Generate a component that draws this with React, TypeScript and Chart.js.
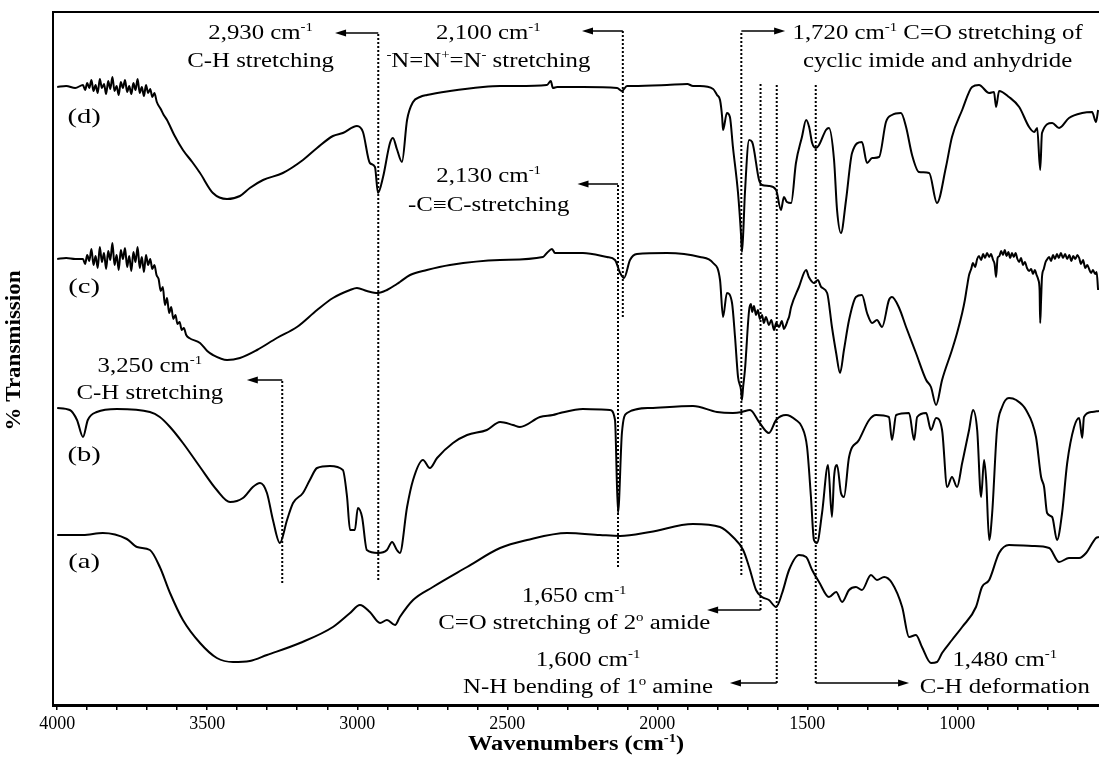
import React, { useEffect, useRef } from "react";
import { Chart, registerables } from "chart.js";

Chart.register(...registerables);

// ---- data: [wavenumber (cm-1), offset transmission (arb. units)] ----
const SPECTRUM_A: number[][] = [
  [4000,170],[3914,170],[3848,172],[3768,166],[3734,158],[3691,155],[3658,138],[3624,112],[3581,85],[3524,62],
  [3468,47],[3414,43],[3358,44],[3301,50],[3191,62],[3081,78],[3024,92],[2991,100],[2958,93],[2924,82],
  [2901,85],[2874,80],[2858,88],[2814,105],[2748,118],[2634,138],[2524,157],[2434,165],[2301,172],[2191,170],
  [2124,169],[2024,173],[1881,181],[1791,178],[1748,168],[1714,155],[1694,138],[1671,115],[1651,108],[1628,105],
  [1604,98],[1584,112],[1561,135],[1528,150],[1504,148],[1484,135],[1461,123],[1428,108],[1404,113],[1384,103],
  [1361,115],[1338,118],[1318,115],[1288,130],[1268,125],[1244,128],[1218,122],[1184,98],[1161,68],[1138,70],
  [1118,58],[1088,42],[1068,43],[1051,52],[1018,65],[984,78],[938,98],[918,118],[894,125],[861,152],
  [828,160],[751,159],[694,157],[661,143],[628,147],[594,147],[571,152],[538,167],[528,168]
];

const SPECTRUM_B: number[][] = [
  [4000,297],[3958,295],[3934,285],[3914,268],[3898,285],[3868,293],[3801,296],[3691,293],[3658,288],[3624,278],
  [3581,262],[3524,238],[3468,215],[3424,203],[3381,207],[3348,218],[3324,222],[3301,212],[3281,185],[3258,162],
  [3234,185],[3214,202],[3181,212],[3158,225],[3134,237],[3091,239],[3048,235],[3034,208],[3024,175],[3008,175],
  [2998,197],[2984,188],[2968,155],[2931,152],[2901,155],[2884,163],[2868,155],[2858,152],[2834,198],[2814,225],
  [2781,245],[2758,237],[2734,247],[2681,262],[2634,270],[2568,275],[2524,283],[2481,280],[2458,278],[2391,288],
  [2348,290],[2324,292],[2248,296],[2158,295],[2141,285],[2131,192],[2118,272],[2101,292],[2024,297],[1881,299],
  [1801,293],[1748,292],[1718,293],[1691,295],[1661,283],[1628,272],[1604,285],[1571,290],[1538,285],[1518,278],
  [1501,258],[1488,208],[1478,165],[1468,162],[1451,192],[1431,240],[1418,188],[1411,228],[1401,240],[1388,212],
  [1378,208],[1361,248],[1328,265],[1294,285],[1271,290],[1228,288],[1218,265],[1204,290],[1161,292],[1144,265],
  [1134,288],[1104,292],[1088,275],[1071,287],[1051,275],[1034,218],[1018,228],[1001,218],[984,242],[961,275],
  [948,295],[934,275],[921,208],[911,245],[904,225],[894,165],[884,192],[868,275],[851,298],[828,307],
  [804,305],[771,295],[738,268],[721,228],[711,218],[701,192],[684,188],[668,165],[651,192],[634,242],
  [611,278],[594,287],[584,267],[578,288],[551,293],[528,294]
];

const SPECTRUM_C: number[][] = [
  [4000,446],[3970,447],[3940,446],[3914,446],[3907,441],[3900,450],[3893,444],[3886,456],[3879,440],[3872,449],
  [3865,437],[3858,458],[3851,443],[3844,452],[3837,436],[3830,454],[3823,445],[3816,462],[3809,440],[3802,450],
  [3795,435],[3788,455],[3781,446],[3774,457],[3767,438],[3760,449],[3753,434],[3746,453],[3739,443],[3732,458],
  [3725,437],[3718,448],[3711,433],[3704,450],[3697,440],[3690,446],[3683,436],[3676,440],[3669,430],[3662,426],
  [3655,414],[3648,418],[3641,400],[3634,407],[3627,392],[3620,398],[3613,386],[3606,390],[3599,381],[3592,383],
  [3585,375],[3578,377],[3570,370],[3560,367],[3524,362],[3500,354],[3481,350],[3434,345],[3391,347],[3334,355],
  [3268,367],[3201,378],[3134,395],[3081,407],[3024,415],[3001,417],[2968,414],[2931,412],[2901,415],[2868,421],
  [2858,423],[2824,430],[2768,435],[2691,440],[2524,445],[2381,448],[2368,452],[2351,456],[2341,452],[2248,452],
  [2168,448],[2141,445],[2124,432],[2111,427],[2091,445],[2068,451],[1968,452],[1858,448],[1814,442],[1791,425],
  [1781,388],[1768,412],[1751,402],[1741,368],[1731,328],[1721,315],[1718,305],[1714,318],[1708,335],[1694,395],
  [1688,401],[1684,393],[1678,399],[1671,390],[1665,395],[1658,386],[1651,390],[1645,382],[1638,388],[1628,380],
  [1620,385],[1611,375],[1604,382],[1594,378],[1585,384],[1578,376],[1571,380],[1565,385],[1561,388],[1554,398],
  [1528,418],[1504,435],[1495,428],[1478,422],[1465,425],[1454,418],[1434,412],[1418,378],[1404,352],[1391,332],
  [1378,355],[1361,385],[1338,408],[1318,410],[1301,392],[1284,382],[1268,385],[1251,378],[1228,405],[1218,408],
  [1194,397],[1171,378],[1138,352],[1104,325],[1088,318],[1071,300],[1051,325],[1018,355],[1001,372],[984,392],
  [975,405],[968,418],[961,430],[954,436],[948,442],[941,438],[934,446],[928,449],[921,445],[914,451],
  [908,447],[901,452],[894,448],[888,451],[881,445],[876,441],[871,428],[866,447],[860,449],[854,454],
  [848,450],[842,455],[836,449],[830,453],[824,447],[818,452],[812,448],[806,452],[800,446],[794,443],
  [788,447],[781,440],[775,443],[768,437],[761,434],[754,436],[748,431],[742,435],[736,430],[730,425],
  [726,415],[724,382],[721,405],[718,428],[712,436],[706,443],[700,446],[694,448],[688,444],[681,450],
  [675,446],[668,451],[662,447],[655,452],[648,447],[641,451],[634,446],[627,450],[620,444],[614,449],
  [607,446],[600,450],[594,447],[588,441],[581,445],[574,437],[567,440],[561,436],[554,432],[548,435],
  [541,431],[536,433],[531,415]
];

const SPECTRUM_D: number[][] = [
  [4000,618],[3970,619],[3940,617],[3914,620],[3907,615],[3900,622],[3893,617],[3886,625],[3879,614],[3872,620],
  [3865,612],[3858,626],[3851,617],[3844,621],[3837,611],[3830,624],[3823,616],[3816,628],[3809,614],[3802,619],
  [3795,610],[3788,623],[3781,617],[3774,625],[3767,613],[3760,619],[3753,611],[3746,622],[3739,615],[3732,626],
  [3725,612],[3718,618],[3711,609],[3704,620],[3697,612],[3690,616],[3683,608],[3676,612],[3668,603],[3655,596],
  [3645,590],[3634,585],[3610,570],[3581,555],[3550,543],[3524,532],[3481,512],[3434,506],[3391,509],[3358,517],
  [3314,525],[3248,532],[3181,545],[3134,557],[3081,569],[3048,572],[3001,579],[2981,573],[2958,542],[2941,538],
  [2931,512],[2914,528],[2891,562],[2881,567],[2868,556],[2851,543],[2834,585],[2814,603],[2791,608],[2768,610],
  [2691,614],[2581,618],[2524,619],[2468,619],[2368,620],[2355,624],[2348,617],[2334,618],[2248,618],[2134,617],
  [2118,614],[2101,619],[2081,619],[1968,620],[1900,621],[1881,619],[1858,619],[1814,616],[1801,610],[1791,605],
  [1784,588],[1781,575],[1768,592],[1758,588],[1748,558],[1731,512],[1721,470],[1718,453],[1714,470],[1708,512],
  [1694,565],[1684,563],[1661,525],[1651,520],[1628,519],[1604,515],[1588,495],[1578,508],[1568,503],[1554,502],
  [1538,542],[1518,568],[1504,585],[1494,578],[1484,562],[1471,557],[1461,560],[1438,575],[1428,577],[1411,545],
  [1401,495],[1388,472],[1371,505],[1351,552],[1318,563],[1301,542],[1284,547],[1261,548],[1238,583],[1218,590],
  [1188,592],[1171,578],[1151,550],[1128,533],[1094,532],[1068,502],[1038,538],[1018,568],[984,595],[951,618],
  [928,620],[894,612],[878,613],[871,598],[861,614],[828,608],[794,598],[761,578],[744,573],[734,577],
  [724,535],[718,572],[684,582],[661,577],[628,587],[584,592],[551,593],[538,583],[531,595]
];

const SERIES = [SPECTRUM_A, SPECTRUM_B, SPECTRUM_C, SPECTRUM_D];

const CURVE_LABELS = ["(a)", "(b)", "(c)", "(d)"];
const CURVE_LABEL_X = [3910, 3910, 3910, 3910];
const CURVE_LABEL_Y = [143, 250, 418, 588];

const MAJOR_TICKS = [4000, 3500, 3000, 2500, 2000, 1500, 1000];
const X_MIN = 528;
const X_MAX = 4014;
const Y_MIN = 0;
const Y_MAX = 693;

const X_TITLE = "Wavenumbers (cm^{-1})";
const Y_TITLE = "% Transmission";

// annotations: marker line (cm-1), its extent, arrow row, arrow tip, two text lines
const ANN_LINE = [2930, 3250, 2115, 2131, 1720, 1656, 1602, 1472];
const ANN_FROM = [125, 122, 388, 138, 130, 95, 22, 22];
const ANN_TO = [672, 325, 674, 521, 674, 622, 620, 620];
const ANN_ARROW_Y = [672, 325, 674, 521, 674, 95, 22, 22];
const ANN_ARROW_TIP = [3074, 3368, 2251, 2266, 1574, 1834, 1758, 1161];
const ANN_TEXT1 = ["2,930 cm^{-1}", "3,250 cm^{-1}", "2,100 cm^{-1}", "2,130 cm^{-1}", "1,720 cm^{-1} C=O stretching of", "1,650 cm^{-1}", "1,600 cm^{-1}", "1,480 cm^{-1}"];
const ANN_TEXT2 = ["C-H stretching", "C-H stretching", "^{-}N=N^{+}=N^{-} stretching", "-C\u2261C-stretching", "cyclic imide and anhydride", "C=O stretching of 2^{o} amide", "N-H bending of 1^{o} amine", "C-H deformation"];
const ANN_TEXT_X = [3322, 3691, 2563, 2562, 1066, 2277, 2231, 842];
const ANN_TEXT1_Y = [671, 338, 671, 528, 671, 108, 44, 44];
const ANN_TEXT2_Y = [643, 311, 643, 499, 643, 81, 17, 17];

const FONT = '"Liberation Serif", "Times New Roman", serif';

type Seg = { t: string; sup: boolean };
function parseRich(s: string): Seg[] {
  const segs: Seg[] = [];
  const re = /\^\{([^}]*)\}/g;
  let last = 0;
  let m: RegExpExecArray | null;
  while ((m = re.exec(s))) {
    if (m.index > last) segs.push({ t: s.slice(last, m.index), sup: false });
    segs.push({ t: m[1], sup: true });
    last = re.lastIndex;
  }
  if (last < s.length) segs.push({ t: s.slice(last), sup: false });
  return segs;
}

function drawRich(ctx: CanvasRenderingContext2D, s: string, cx: number, cy: number, size: number, bold: boolean, sx: number) {
  const segs = parseRich(s);
  const f = (sup: boolean) => `${bold ? "bold " : ""}${sup ? Math.round(size * 0.62) : size}px ${FONT}`;
  let w = 0;
  for (const g of segs) {
    ctx.font = f(g.sup);
    w += ctx.measureText(g.t).width;
  }
  ctx.save();
  ctx.translate(cx - (w * sx) / 2, cy);
  ctx.scale(sx, 1);
  ctx.textAlign = "left";
  ctx.textBaseline = "alphabetic";
  ctx.fillStyle = "#000";
  let x = 0;
  for (const g of segs) {
    ctx.font = f(g.sup);
    const base = size * 0.25;
    ctx.fillText(g.t, x, g.sup ? base - size * 0.4 : base);
    x += ctx.measureText(g.t).width;
  }
  ctx.restore();
}

const decorPlugin = {
  id: "ftirDecor",
  afterDatasetsDraw(chart: any) {
    const ctx: CanvasRenderingContext2D = chart.ctx;
    const xs = chart.scales.x;
    const ys = chart.scales.y;
    const area = chart.chartArea;
    ctx.save();
    ctx.strokeStyle = "#000";
    ctx.fillStyle = "#000";
    // frame (left + top)
    ctx.lineWidth = 2;
    ctx.beginPath();
    ctx.moveTo(area.left, area.bottom);
    ctx.lineTo(area.left, area.top);
    ctx.lineTo(area.right, area.top);
    ctx.stroke();

    for (let i = 0; i < ANN_LINE.length; i++) {
      const x = xs.getPixelForValue(ANN_LINE[i]);
      ctx.setLineDash([2, 2]);
      ctx.lineWidth = 2;
      ctx.beginPath();
      ctx.moveTo(x, ys.getPixelForValue(ANN_FROM[i]));
      ctx.lineTo(x, ys.getPixelForValue(ANN_TO[i]));
      ctx.stroke();
      ctx.setLineDash([]);
      ctx.lineWidth = 1.5;
      const ay = ys.getPixelForValue(ANN_ARROW_Y[i]);
      const tx = xs.getPixelForValue(ANN_ARROW_TIP[i]);
      const dir = Math.sign(tx - x);
      ctx.beginPath();
      ctx.moveTo(x, ay);
      ctx.lineTo(tx - dir * 4, ay);
      ctx.stroke();
      ctx.beginPath();
      ctx.moveTo(tx, ay);
      ctx.lineTo(tx - dir * 11, ay - 3.5);
      ctx.lineTo(tx - dir * 11, ay + 3.5);
      ctx.closePath();
      ctx.fill();
      const cx = xs.getPixelForValue(ANN_TEXT_X[i]);
      drawRich(ctx, ANN_TEXT1[i], cx, ys.getPixelForValue(ANN_TEXT1_Y[i]), 20, false, 1.24);
      drawRich(ctx, ANN_TEXT2[i], cx, ys.getPixelForValue(ANN_TEXT2_Y[i]), 20, false, 1.24);
    }

    for (let i = 0; i < CURVE_LABELS.length; i++) {
      drawRich(ctx, CURVE_LABELS[i], xs.getPixelForValue(CURVE_LABEL_X[i]), ys.getPixelForValue(CURVE_LABEL_Y[i]), 22, false, 1.3);
    }

    // axis titles
    drawRich(ctx, X_TITLE, (area.left + area.right) / 2, area.bottom + 40, 20, true, 1.22);
    ctx.save();
    ctx.translate(15, (area.top + area.bottom) / 2 - 8);
    ctx.rotate(-Math.PI / 2);
    drawRich(ctx, Y_TITLE, 0, 0, 20, true, 1.15);
    ctx.restore();
    ctx.restore();
  },
};

export default function App() {
  const ref = useRef<HTMLCanvasElement | null>(null);
  useEffect(() => {
    if (!ref.current) return;
    const minor: number[] = [];
    for (let v = 600; v <= 4000; v += 100) minor.push(v);
    const chart = new Chart(ref.current, {
      type: "line",
      data: {
        datasets: SERIES.map((s) => ({
          data: s.map((p) => ({ x: p[0], y: p[1] })),
          borderColor: "#000",
          borderWidth: 2,
          pointRadius: 0,
          cubicInterpolationMode: "monotone",
          fill: false,
        })),
      },
      options: {
        responsive: false,
        animation: false,
        devicePixelRatio: 1,
        layout: { padding: { left: 53, top: 12, right: 0, bottom: 0 } },
        plugins: { legend: { display: false }, tooltip: { enabled: false } },
        scales: {
          x: {
            type: "linear",
            reverse: true,
            min: X_MIN,
            max: X_MAX,
            afterBuildTicks: (scale: any) => {
              scale.ticks = minor.map((v) => ({ value: v }));
            },
            afterFit: (scale: any) => {
              scale.height = 62;
            },
            ticks: {
              autoSkip: false,
              maxRotation: 0,
              minRotation: 0,
              padding: 3,
              color: "#000",
              font: { family: FONT, size: 18 },
              callback: (v: any) => (MAJOR_TICKS.includes(Number(v)) ? String(v) : ""),
            },
            grid: { display: true, drawOnChartArea: false, drawTicks: true, tickLength: 5, color: "#000", lineWidth: 1.5 },
            border: { display: true, color: "#000", width: 3 },
          },
          y: { type: "linear", display: false, min: Y_MIN, max: Y_MAX },
        },
      },
      plugins: [decorPlugin],
    });
    return () => chart.destroy();
  }, []);
  return (
    <canvas
      ref={ref}
      width={1099}
      height={767}
      style={{ position: "fixed", left: 0, top: 0, width: 1099, height: 767, background: "#fff" }}
    />
  );
}
